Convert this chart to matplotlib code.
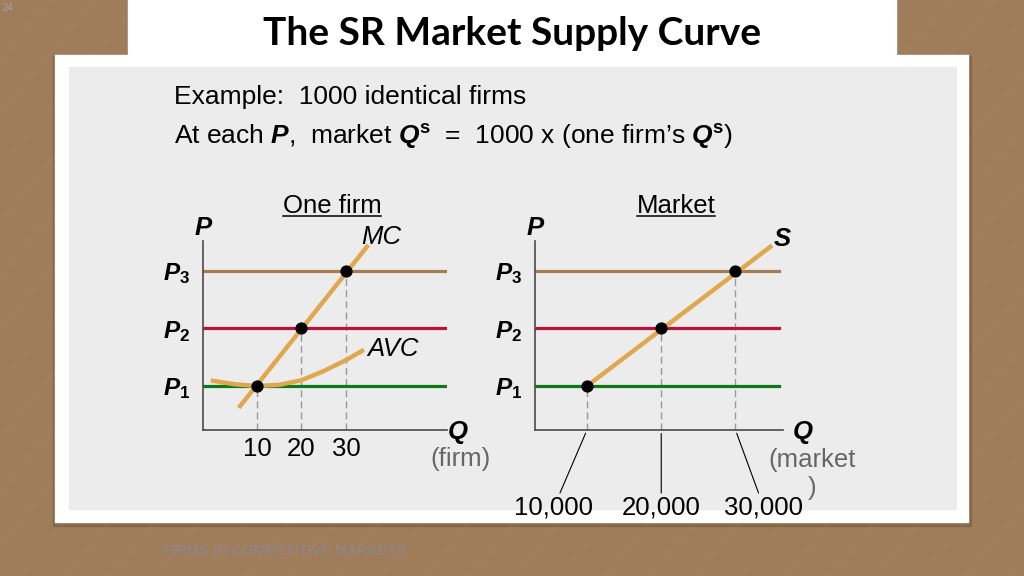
import numpy as np
import matplotlib.pyplot as plt
from matplotlib.patches import Rectangle
from matplotlib.lines import Line2D

plt.rcParams['font.family'] = ['Liberation Sans', 'DejaVu Sans']
plt.rcParams['mathtext.fontset'] = 'custom'
plt.rcParams['mathtext.rm'] = 'Liberation Sans'
plt.rcParams['mathtext.it'] = 'Liberation Sans:italic'
plt.rcParams['mathtext.bf'] = 'Liberation Sans:bold'
plt.rcParams['mathtext.bfit'] = 'Liberation Sans:italic:bold'

# values
prices = [1.0, 2.0, 3.0]
price_labels = [r'$\mathbfit{P}_{\mathbf{1}}$', r'$\mathbfit{P}_{\mathbf{2}}$', r'$\mathbfit{P}_{\mathbf{3}}$']
price_colors = ['#0b7a16', '#b8143c', '#a67c52']
firm_q = np.array([10, 20, 30])
n_firms = 1000
market_q = n_firms * firm_q
market_labels = ['10,000', '20,000', '30,000']
mc_q = [6.2, 34.7]
mc_p = [0.65, 3.42]
avc_q = [0.1, 5, 10, 15, 20, 25, 30, 33.6]
avc_p = [1.09, 1.03, 1.0, 1.02, 1.10, 1.26, 1.45, 1.61]
# market supply = 1000 x the MC curve above min AVC
supply_q = [market_q[0], n_firms * mc_q[-1]]
supply_p = [prices[0], mc_p[-1]]

orange = '#e0a84e'
W, H = 1024, 576

fig = plt.figure(figsize=(10.24, 5.76), dpi=100)

# slide background
bg = fig.add_axes([0, 0, 1, 1])
bg.set_xlim(0, W)
bg.set_ylim(H, 0)
bg.axis('off')
bg.add_patch(Rectangle((0, 0), W, H, color='#a07d5a'))
for x0 in np.arange(-700, 1100, 45):
    bg.plot([x0, x0 + 480], [H, 0], color='white', alpha=0.05, lw=0.7)
bg.add_patch(Rectangle((53, 56), 918, 470, color='#5a4330', alpha=0.3))
bg.add_patch(Rectangle((55, 55), 913, 467, color='white'))
bg.add_patch(Rectangle((128, 0), 768, 60, color='white'))
bg.add_patch(Rectangle((69, 67), 887, 442, color='#ececec'))

bg.text(512, 45, 'The SR Market Supply Curve', family=['Lato', 'DejaVu Sans'],
        fontweight='bold', fontsize=28, ha='center', va='baseline')
bg.text(174, 104, 'Example:  1000 identical firms', fontsize=19, va='baseline')
bg.text(174, 144, r'At each $\mathbfit{P}$,  market $\mathbfit{Q}^{\mathbf{s}}$  =  '
        r'1000 x (one firm’s $\mathbfit{Q}^{\mathbf{s}}$)', fontsize=19, va='baseline')
bg.text(163, 551, 'FIRMS IN COMPETITIVE MARKETS', fontsize=10.5, color='#8a8aa0',
        alpha=0.85, va='center')
bg.text(3, 8, '24', fontsize=7, color='#a0a0b0', va='center')


def fig_rect(x0, y0, x1, y1):
    return [x0 / W, 1 - y1 / H, (x1 - x0) / W, (y1 - y0) / H]


ax1 = fig.add_axes(fig_rect(203, 241, 447, 430))
ax2 = fig.add_axes(fig_rect(535, 241, 783, 430))
ax1.set_xlim(-2.13, 52.7)
ax2.set_xlim(2997, 36400)
y_lo, y_hi = 0.235, 3.52
fs = 18.5

for ax in (ax1, ax2):
    ax.set_facecolor('none')
    ax.set_ylim(y_lo, y_hi)
    for side in ('top', 'right'):
        ax.spines[side].set_visible(False)
    for side in ('left', 'bottom'):
        ax.spines[side].set_color('#4a4a4a')
        ax.spines[side].set_linewidth(1.2)
    ax.set_yticks(prices, labels=price_labels)
    ax.tick_params(axis='y', length=0, pad=9, labelsize=17.5)
    ax.text(0, 1.07, 'P', transform=ax.transAxes, fontsize=fs, fontweight='bold',
            style='italic', ha='center', va='center')
    ax.text(0, 0, 'Q', transform=ax.transAxes, fontsize=fs, fontweight='bold',
            style='italic', ha='center', va='center')

xmax_frac = [1.0, 0.985]
for ax, xm in zip((ax1, ax2), xmax_frac):
    for p, c in zip(prices, price_colors):
        ax.axhline(p, xmax=xm, color=c, lw=2.3, zorder=2)

# one firm
ax1.vlines(firm_q, y_lo, prices, colors='#999999', linestyles=(0, (5, 3)), lw=1, zorder=1)
ax1.plot(avc_q, avc_p, color=orange, lw=3.2, zorder=3)
ax1.plot(mc_q, mc_p, color=orange, lw=3.2, zorder=3)
ax1.plot(firm_q, prices, 'o', color='black', ms=7.8, zorder=5)
ax1.set_xticks(firm_q, labels=[str(q) for q in firm_q])
ax1.tick_params(axis='x', length=0, pad=5, labelsize=fs)
ax1.annotate('MC', (mc_q[-1], mc_p[-1]), xytext=(10, 7), textcoords='offset points',
             fontsize=fs, style='italic', ha='center', va='center')
ax1.annotate('AVC', (avc_q[-1], avc_p[-1]), xytext=(22.5, 1.5), textcoords='offset points',
             fontsize=fs, style='italic', ha='center', va='center')
ax1.texts[1].set_position((1.045, -0.01))
ax1.text(1.057, -0.153, '(firm)', transform=ax1.transAxes, fontsize=fs,
         color='#666666', ha='center', va='center')
t1 = ax1.text(0.529, 1.15, 'One firm', transform=ax1.transAxes, fontsize=fs,
              ha='center', va='baseline')

# market
ax2.vlines(market_q, y_lo, prices, colors='#999999', linestyles=(0, (5, 3)), lw=1, zorder=1)
ax2.plot(supply_q, supply_p, color=orange, lw=3.2, zorder=3)
ax2.plot(market_q, prices, 'o', color='black', ms=7.8, zorder=5)
ax2.set_xticks([])
ax2.annotate('S', (supply_q[-1], supply_p[-1]), xytext=(8.6, 5.8), textcoords='offset points',
             fontsize=fs, fontweight='bold', style='italic', ha='center', va='center')
ax2.texts[1].set_position((1.081, -0.01))
ax2.text(1.117, -0.233, '(market\n)', transform=ax2.transAxes, fontsize=fs,
         color='#666666', ha='center', va='center', linespacing=1.25)
label_dx = [-24, 0, 20.5]
for q, lab, dx in zip(market_q, market_labels, label_dx):
    ax2.annotate(lab, (q, y_lo), xytext=(dx, -56), textcoords='offset points',
                 fontsize=fs, ha='center', va='center',
                 arrowprops=dict(arrowstyle='-', color='black', lw=0.8,
                                 shrinkA=0, shrinkB=2.5))
t2 = ax2.text(0.569, 1.148, 'Market', transform=ax2.transAxes, fontsize=fs,
              ha='center', va='baseline')

# underline the panel headings
fig.canvas.draw()
renderer = fig.canvas.get_renderer()
for t in (t1, t2):
    bb = t.get_window_extent(renderer)
    base_y = t.get_transform().transform(t.get_position())[1] - 3
    (fx0, fy), (fx1, _) = fig.transFigure.inverted().transform([(bb.x0, base_y), (bb.x1, base_y)])
    fig.add_artist(Line2D([fx0, fx1], [fy, fy], transform=fig.transFigure,
                          color='black', lw=1.1))

fig.savefig('out.png', dpi=100)
